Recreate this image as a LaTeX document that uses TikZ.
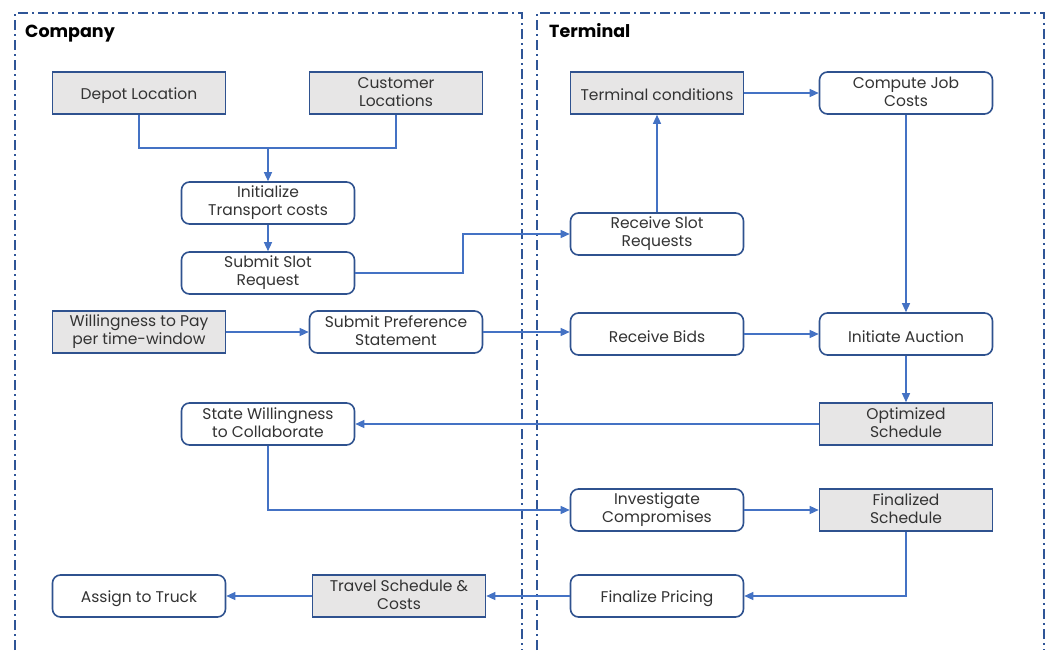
\documentclass[tikz,border=0pt]{standalone}
\usepackage{fontspec}
\setmainfont{Poppins}
\usetikzlibrary{arrows.meta}
\definecolor{boxline}{HTML}{2F528F}
\definecolor{arrowc}{HTML}{4472C4}
\definecolor{boxfill}{HTML}{E7E6E6}
\definecolor{framec}{HTML}{2F5597}
\definecolor{txt}{HTML}{333333}
\tikzset{
  base/.style={draw=boxline, line width=1.6pt, minimum width=173pt, minimum height=42pt,
    align=center, text=txt, font=\fontsize{15.5}{18}\selectfont, inner sep=1pt,
    execute at begin node={\rule{0pt}{18pt}},
    execute at end node={\rule[-2pt]{0pt}{0pt}}},
  proc/.style={base, rounded corners=8pt, fill=white},
  data/.style={base, fill=boxfill},
  conn/.style={draw=arrowc, line width=1.3pt, -{Triangle[length=9pt,width=8pt]}},
  plain/.style={draw=arrowc, line width=1.3pt},
  lane/.style={draw=framec, line width=1.4pt, dash pattern=on 10pt off 4pt on 2pt off 4pt},
  title/.style={font=\fontsize{17.5}{20}\selectfont\bfseries, anchor=base west, text=black, inner sep=0pt}
}
\begin{document}
\begin{tikzpicture}[x=1pt,y=-1pt]
\useasboundingbox (0,0) rectangle (1051,650);
% lanes
\draw[lane] (15,650) -- (15,13) -- (522,13) -- (522,650);
\draw[lane] (537,650) -- (537,13) -- (1044,13) -- (1044,650);
\node[title] (tc) at (25,38) {Company};
\node[title] (tt) at (549,38) {Terminal};
% company
\node[data] (dep) at (139,93) {Depot Location};
\node[data] (cus) at (396,93) {Customer\\Locations};
\node[proc] (ini) at (268,203) {Initialize\\Transport costs};
\node[proc] (ssr) at (268,273) {Submit Slot\\Request};
\node[data] (wtp) at (139,332) {Willingness to Pay\\per time-window};
\node[proc] (spr) at (396,332) {Submit Preference\\Statement};
\node[proc] (swc) at (268,424) {State Willingness\\to Collaborate};
\node[proc] (atr) at (139,596) {Assign to Truck};
\node[data] (tsc) at (399,596) {Travel Schedule \&\\Costs};
% terminal
\node[data] (tcn) at (657,93) {Terminal conditions};
\node[proc] (cjc) at (906,93) {Compute Job\\Costs};
\node[proc] (rsr) at (657,234) {Receive Slot\\Requests};
\node[proc] (rbd) at (657,334) {Receive Bids};
\node[proc] (iau) at (906,334) {Initiate Auction};
\node[data] (osc) at (906,424) {Optimized\\Schedule};
\node[proc] (icm) at (657,510) {Investigate\\Compromises};
\node[data] (fsc) at (906,510) {Finalized\\Schedule};
\node[proc] (fpr) at (657,596) {Finalize Pricing};
% connectors
\coordinate (jn) at (268,148);
\draw[plain] (dep.south) |- (jn);
\draw[plain] (cus.south) |- (jn);
\draw[conn] (jn) -- (ini.north);
\draw[conn] (ini) -- (ssr);
\coordinate (k1) at (463,273);
\coordinate (k2) at (463,234);
\draw[conn] (ssr.east) -- (k1) -- (k2) -- (rsr.west);
\draw[conn] (rsr) -- (tcn);
\draw[conn] (tcn) -- (cjc);
\draw[conn] (cjc) -- (iau);
\draw[conn] (wtp) -- (spr);
\draw[conn] (spr.east) -- (rbd.west |- spr.east);
\draw[conn] (rbd) -- (iau);
\draw[conn] (iau) -- (osc);
\draw[conn] (osc) -- (swc);
\draw[conn] (swc.south) |- (icm.west);
\draw[conn] (icm) -- (fsc);
\draw[conn] (fsc.south) |- (fpr.east);
\draw[conn] (fpr) -- (tsc);
\draw[conn] (tsc) -- (atr);
\end{tikzpicture}
\end{document}
